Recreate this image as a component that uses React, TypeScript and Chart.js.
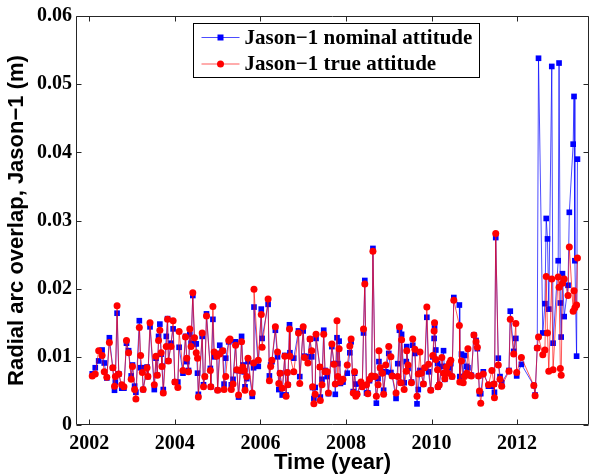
import { useEffect, useRef } from "react"
import { Chart, registerables } from "chart.js"

Chart.register(...registerables)

// decimal year of each arc
const times = [
  2002.07, 2002.14, 2002.22, 2002.30, 2002.35, 2002.41, 2002.47, 2002.55, 2002.59, 2002.61,
  2002.65, 2002.69, 2002.76, 2002.81, 2002.87, 2002.92, 2002.98, 2003.01, 2003.06, 2003.09,
  2003.17, 2003.20, 2003.24, 2003.26, 2003.35, 2003.37, 2003.42, 2003.52, 2003.56, 2003.59,
  2003.62, 2003.65, 2003.68, 2003.70, 2003.73, 2003.80, 2003.83, 2003.85, 2003.91, 2003.96,
  2004.00, 2004.07, 2004.10, 2004.19, 2004.25, 2004.28, 2004.32, 2004.35, 2004.38, 2004.42,
  2004.46, 2004.50, 2004.53, 2004.55, 2004.64, 2004.67, 2004.70, 2004.74, 2004.83, 2004.84,
  2004.89, 2004.92, 2004.98, 2005.00, 2005.05, 2005.12, 2005.15, 2005.19, 2005.26, 2005.29,
  2005.32, 2005.36, 2005.42, 2005.45, 2005.49, 2005.53, 2005.56, 2005.59, 2005.62, 2005.64,
  2005.68, 2005.71, 2005.81, 2005.84, 2005.85, 2005.95, 2006.02, 2006.04, 2006.18, 2006.21,
  2006.24, 2006.27, 2006.35, 2006.40, 2006.43, 2006.46, 2006.51, 2006.57, 2006.60, 2006.63,
  2006.64, 2006.68, 2006.69, 2006.78, 2006.89, 2006.92, 2007.00, 2007.03, 2007.11, 2007.16,
  2007.20, 2007.22, 2007.25, 2007.28, 2007.30, 2007.39, 2007.40, 2007.44, 2007.48, 2007.51,
  2007.56, 2007.59, 2007.67, 2007.72, 2007.75, 2007.79, 2007.81, 2007.84, 2007.87, 2007.93,
  2008.03, 2008.09, 2008.12, 2008.17, 2008.20, 2008.23, 2008.26, 2008.35, 2008.38, 2008.41,
  2008.44, 2008.48, 2008.51, 2008.55, 2008.60, 2008.63, 2008.68, 2008.71, 2008.75, 2008.77,
  2008.80, 2008.85, 2008.88, 2008.93, 2009.00, 2009.05, 2009.08, 2009.17, 2009.21, 2009.25,
  2009.28, 2009.30, 2009.36, 2009.41, 2009.42, 2009.45, 2009.53, 2009.56, 2009.61, 2009.66,
  2009.69, 2009.73, 2009.76, 2009.81, 2009.84, 2009.89, 2009.93, 2009.98, 2010.03, 2010.06,
  2010.07, 2010.10, 2010.14, 2010.15, 2010.18, 2010.24, 2010.28, 2010.31, 2010.35, 2010.38,
  2010.42, 2010.45, 2010.48, 2010.52, 2010.65, 2010.66, 2010.70, 2010.74, 2010.77, 2010.82,
  2010.85, 2010.90, 2010.93, 2010.99, 2011.04, 2011.07, 2011.10, 2011.12, 2011.15, 2011.21,
  2011.33, 2011.41, 2011.46, 2011.47, 2011.50, 2011.56, 2011.60, 2011.64, 2011.81, 2011.84,
  2011.92, 2011.97, 2011.99, 2012.10, 2012.39, 2012.42, 2012.47, 2012.50, 2012.60, 2012.65,
  2012.68, 2012.71, 2012.74, 2012.81, 2012.84, 2012.96, 2012.98, 2013.01, 2013.03, 2013.06,
  2013.10, 2013.19, 2013.22, 2013.31, 2013.33, 2013.35, 2013.39, 2013.41,
]

// radial arc overlap (m), nominal attitude model
const nominal = [
  0.0075, 0.0084, 0.0094, 0.0110, 0.0091, 0.0069, 0.0128, 0.0084, 0.0051, 0.0063,
  0.0164, 0.0075, 0.0054, 0.0054, 0.0120, 0.0109, 0.0072, 0.0088, 0.0057, 0.0048,
  0.0153, 0.0084, 0.0084, 0.0052, 0.0085, 0.0071, 0.0144, 0.0052, 0.0098, 0.0073,
  0.0130, 0.0148, 0.0104, 0.0086, 0.0052, 0.0130, 0.0156, 0.0094, 0.0120, 0.0141,
  0.0063, 0.0063, 0.0114, 0.0076, 0.0130, 0.0093, 0.0080, 0.0133, 0.0120, 0.0190,
  0.0119, 0.0119, 0.0076, 0.0045, 0.0130, 0.0059, 0.0071, 0.0163, 0.0083, 0.0056,
  0.0155, 0.0100, 0.0105, 0.0051, 0.0117, 0.0109, 0.0060, 0.0098, 0.0122, 0.0124,
  0.0059, 0.0067, 0.0122, 0.0080, 0.0041, 0.0080, 0.0130, 0.0088, 0.0078, 0.0056,
  0.0068, 0.0093, 0.0042, 0.0084, 0.0173, 0.0086, 0.0170, 0.0127, 0.0177, 0.0072,
  0.0088, 0.0093, 0.0139, 0.0100, 0.0052, 0.0076, 0.0044, 0.0102, 0.0044, 0.0077,
  0.0059, 0.0147, 0.0106, 0.0098, 0.0138, 0.0071, 0.0138, 0.0101, 0.0100, 0.0126,
  0.0100, 0.0055, 0.0039, 0.0055, 0.0127, 0.0085, 0.0041, 0.0067, 0.0139, 0.0080,
  0.0071, 0.0046, 0.0115, 0.0090, 0.0045, 0.0128, 0.0090, 0.0123, 0.0061, 0.0063,
  0.0076, 0.0106, 0.0122, 0.0049, 0.0076, 0.0060, 0.0046, 0.0061, 0.0056, 0.0135,
  0.0212, 0.0047, 0.0047, 0.0065, 0.0071, 0.0259, 0.0071, 0.0032, 0.0068, 0.0093,
  0.0084, 0.0078, 0.0051, 0.0078, 0.0105, 0.0077, 0.0072, 0.0039, 0.0090, 0.0139,
  0.0062, 0.0133, 0.0062, 0.0093, 0.0115, 0.0083, 0.0063, 0.0117, 0.0105, 0.0031,
  0.0052, 0.0080, 0.0076, 0.0060, 0.0084, 0.0158, 0.0078, 0.0051, 0.0100, 0.0127,
  0.0144, 0.0110, 0.0090, 0.0056, 0.0059, 0.0086, 0.0109, 0.0067, 0.0086, 0.0076,
  0.0084, 0.0090, 0.0071, 0.0187, 0.0176, 0.0071, 0.0104, 0.0071, 0.0102, 0.0086,
  0.0084, 0.0073, 0.0073, 0.0132, 0.0124, 0.0112, 0.0072, 0.0046, 0.0046, 0.0078,
  0.0057, 0.0057, 0.0060, 0.0048, 0.0275, 0.0098, 0.0071, 0.0062, 0.0080, 0.0167,
  0.0108, 0.0127, 0.0072, 0.0089, 0.0058, 0.0044, 0.0113, 0.0538, 0.0135, 0.0178,
  0.0303, 0.0273, 0.0170, 0.0526, 0.0120, 0.0241, 0.0531, 0.0179, 0.0129, 0.0222,
  0.0159, 0.0205, 0.0312, 0.0412, 0.0482, 0.0241, 0.0101, 0.0390,
]

// radial arc overlap (m), true attitude
const trueAttitude = [
  0.0072, 0.0075, 0.0109, 0.0102, 0.0078, 0.0070, 0.0121, 0.0084, 0.0057, 0.0071,
  0.0175, 0.0075, 0.0059, 0.0056, 0.0124, 0.0106, 0.0067, 0.0086, 0.0052, 0.0038,
  0.0143, 0.0102, 0.0077, 0.0052, 0.0084, 0.0071, 0.0150, 0.0059, 0.0101, 0.0073,
  0.0124, 0.0139, 0.0106, 0.0086, 0.0047, 0.0115, 0.0155, 0.0094, 0.0115, 0.0153,
  0.0063, 0.0055, 0.0137, 0.0080, 0.0129, 0.0098, 0.0078, 0.0141, 0.0115, 0.0194,
  0.0128, 0.0106, 0.0098, 0.0041, 0.0135, 0.0056, 0.0071, 0.0160, 0.0080, 0.0056,
  0.0174, 0.0107, 0.0101, 0.0051, 0.0104, 0.0109, 0.0052, 0.0071, 0.0124, 0.0126,
  0.0052, 0.0060, 0.0117, 0.0081, 0.0044, 0.0080, 0.0122, 0.0085, 0.0080, 0.0051,
  0.0071, 0.0098, 0.0047, 0.0091, 0.0199, 0.0095, 0.0162, 0.0114, 0.0185, 0.0065,
  0.0086, 0.0095, 0.0144, 0.0107, 0.0061, 0.0076, 0.0054, 0.0101, 0.0042, 0.0077,
  0.0059, 0.0141, 0.0101, 0.0078, 0.0135, 0.0061, 0.0144, 0.0099, 0.0091, 0.0126,
  0.0109, 0.0056, 0.0031, 0.0045, 0.0133, 0.0085, 0.0036, 0.0059, 0.0133, 0.0078,
  0.0078, 0.0047, 0.0119, 0.0089, 0.0060, 0.0153, 0.0071, 0.0112, 0.0063, 0.0067,
  0.0088, 0.0116, 0.0126, 0.0047, 0.0078, 0.0042, 0.0045, 0.0063, 0.0056, 0.0141,
  0.0207, 0.0059, 0.0046, 0.0067, 0.0072, 0.0255, 0.0071, 0.0042, 0.0059, 0.0109,
  0.0084, 0.0076, 0.0045, 0.0088, 0.0115, 0.0100, 0.0072, 0.0047, 0.0071, 0.0144,
  0.0062, 0.0125, 0.0052, 0.0079, 0.0109, 0.0088, 0.0062, 0.0126, 0.0111, 0.0042,
  0.0075, 0.0107, 0.0076, 0.0060, 0.0084, 0.0173, 0.0089, 0.0051, 0.0102, 0.0138,
  0.0150, 0.0096, 0.0081, 0.0056, 0.0059, 0.0099, 0.0076, 0.0068, 0.0085, 0.0076,
  0.0091, 0.0095, 0.0071, 0.0183, 0.0146, 0.0063, 0.0094, 0.0062, 0.0071, 0.0076,
  0.0112, 0.0073, 0.0072, 0.0132, 0.0122, 0.0114, 0.0072, 0.0050, 0.0032, 0.0075,
  0.0059, 0.0080, 0.0060, 0.0040, 0.0281, 0.0088, 0.0067, 0.0057, 0.0079, 0.0155,
  0.0104, 0.0149, 0.0077, 0.0099, 0.0058, 0.0043, 0.0113, 0.0129, 0.0103, 0.0110,
  0.0218, 0.0135, 0.0079, 0.0214, 0.0081, 0.0217, 0.0202, 0.0083, 0.0073, 0.0208,
  0.0214, 0.0190, 0.0261, 0.0167, 0.0197, 0.0172, 0.0176, 0.0245,
]

const seriesLabels = ["Jason\u22121 nominal attitude", "Jason\u22121 true attitude"]
const xTicks = [2002, 2004, 2006, 2008, 2010, 2012]
const yTicks = [0, 0.01, 0.02, 0.03, 0.04, 0.05, 0.06]
const yTickLabels = ["0", "0.01", "0.02", "0.03", "0.04", "0.05", "0.06"]

const SERIF = "'Liberation Serif', 'Times New Roman', serif"
const SANS = "'Liberation Sans', Arial, sans-serif"
const BLUE = "#0000ff"
const RED = "#ff0000"
// thin matlab lines come out lighter than the markers
const BLUE_LINE = "rgba(0, 0, 255, 0.7)"
const RED_LINE = "rgba(255, 0, 0, 0.65)"

// matlab style box with inward ticks on all four sides
const frame = {
  id: "frame",
  afterDatasetsDraw(chart: any) {
    const { ctx, chartArea: a, scales } = chart
    const L = Math.round(a.left) + 0.5
    const R = Math.round(a.right) - 0.5
    const T = Math.round(a.top) + 0.5
    const B = Math.round(a.bottom) - 0.5
    ctx.save()
    ctx.strokeStyle = "#262626"
    ctx.lineWidth = 1
    ctx.beginPath()
    ctx.rect(L, T, R - L, B - T)
    for (const v of xTicks) {
      const px = Math.round(scales.x.getPixelForValue(v)) + 0.5
      ctx.moveTo(px, B)
      ctx.lineTo(px, B - 5)
      ctx.moveTo(px, T)
      ctx.lineTo(px, T + 5)
    }
    for (const v of yTicks) {
      const py = Math.round(scales.y.getPixelForValue(v)) + 0.5
      ctx.moveTo(L, py)
      ctx.lineTo(L + 5, py)
      ctx.moveTo(R, py)
      ctx.lineTo(R - 5, py)
    }
    ctx.stroke()
    ctx.restore()
  },
}

// boxed legend in the upper middle of the axes
const boxLegend = {
  id: "boxLegend",
  afterDraw(chart: any) {
    const { ctx, chartArea: a } = chart
    const x0 = Math.round(a.left + 117) + 0.5
    const y0 = Math.round(a.top + 7) + 0.5
    const w = 286
    const h = 54
    ctx.save()
    ctx.fillStyle = "#ffffff"
    ctx.fillRect(x0, y0, w, h)
    ctx.strokeStyle = "#000000"
    ctx.lineWidth = 1
    ctx.strokeRect(x0, y0, w, h)
    chart.data.datasets.forEach((ds: any, i: number) => {
      const cy = y0 + 14 + i * 26.5
      ctx.strokeStyle = ds.borderColor
      ctx.lineWidth = 1
      ctx.beginPath()
      ctx.moveTo(x0 + 8, cy)
      ctx.lineTo(x0 + 46, cy)
      ctx.stroke()
      ctx.fillStyle = ds.pointBackgroundColor
      if (ds.pointStyle === "rect") {
        ctx.fillRect(x0 + 27 - 3, cy - 3, 6, 6)
      } else {
        ctx.beginPath()
        ctx.arc(x0 + 27, cy, 3.5, 0, Math.PI * 2)
        ctx.fill()
      }
      ctx.fillStyle = "#000000"
      ctx.font = `bold 21px ${SERIF}`
      ctx.textBaseline = "middle"
      ctx.textAlign = "left"
      ctx.fillText(ds.label, x0 + 51, cy + 1)
    })
    ctx.restore()
  },
}

export default function App() {
  const canvasRef = useRef<HTMLCanvasElement>(null)
  const chartRef = useRef<Chart | null>(null)

  useEffect(() => {
    if (!canvasRef.current) return
    if (chartRef.current) chartRef.current.destroy()

    const nominalPts = times.map((t, i) => ({ x: t, y: nominal[i] }))
    const truePts = times.map((t, i) => ({ x: t, y: trueAttitude[i] }))

    chartRef.current = new Chart(canvasRef.current, {
      type: "line",
      data: {
        datasets: [
          {
            label: seriesLabels[0],
            data: nominalPts,
            borderColor: BLUE_LINE,
            backgroundColor: BLUE,
            borderWidth: 1,
            pointStyle: "rect",
            pointRadius: 4,
            pointBorderWidth: 0,
            pointBackgroundColor: BLUE,
            order: 2,
          },
          {
            label: seriesLabels[1],
            data: truePts,
            borderColor: RED_LINE,
            backgroundColor: RED,
            borderWidth: 1,
            pointStyle: "circle",
            pointRadius: 3.5,
            pointBorderWidth: 0,
            pointBackgroundColor: RED,
            order: 1,
          },
        ],
      },
      options: {
        animation: false,
        responsive: false,
        events: [],
        layout: { padding: { top: 15, right: 2, left: 0, bottom: 0 } },
        plugins: {
          legend: { display: false },
          tooltip: { enabled: false },
        },
        scales: {
          x: {
            type: "linear",
            min: 2001.69,
            max: 2013.68,
            border: { display: false },
            grid: { display: false, drawTicks: false },
            afterBuildTicks: (scale: any) => {
              scale.ticks = xTicks.map((v) => ({ value: v }))
            },
            afterFit: (scale: any) => {
              scale.height = 51
            },
            ticks: {
              color: "#000",
              padding: 7,
              maxRotation: 0,
              font: { family: SERIF, size: 20, weight: "bold" },
              callback: (v: any) => String(v),
            },
            title: {
              display: true,
              text: "Time (year)",
              color: "#000",
              padding: { top: 0, bottom: 0 },
              font: { family: SANS, size: 22, weight: "bold" },
            },
          },
          y: {
            type: "linear",
            min: 0,
            max: 0.06,
            border: { display: false },
            grid: { display: false, drawTicks: false },
            afterBuildTicks: (scale: any) => {
              scale.ticks = yTicks.map((v) => ({ value: v }))
            },
            afterFit: (scale: any) => {
              scale.width = 76
            },
            ticks: {
              color: "#000",
              padding: 4,
              font: { family: SERIF, size: 20, weight: "bold" },
              callback: (_v: any, i: number) => yTickLabels[i],
            },
            title: {
              display: true,
              text: "Radial arc overlap, Jason\u22121 (m)",
              color: "#000",
              padding: { top: 4, bottom: 0 },
              font: { family: SANS, size: 22, weight: "bold" },
            },
          },
        },
      },
      plugins: [frame, boxLegend],
    })

    return () => {
      if (chartRef.current) {
        chartRef.current.destroy()
        chartRef.current = null
      }
    }
  }, [])

  return (
    <div style={{ position: "absolute", left: 0, top: 0, width: 593, height: 476, background: "#fff" }}>
      <canvas ref={canvasRef} width={593} height={476} />
    </div>
  )
}
